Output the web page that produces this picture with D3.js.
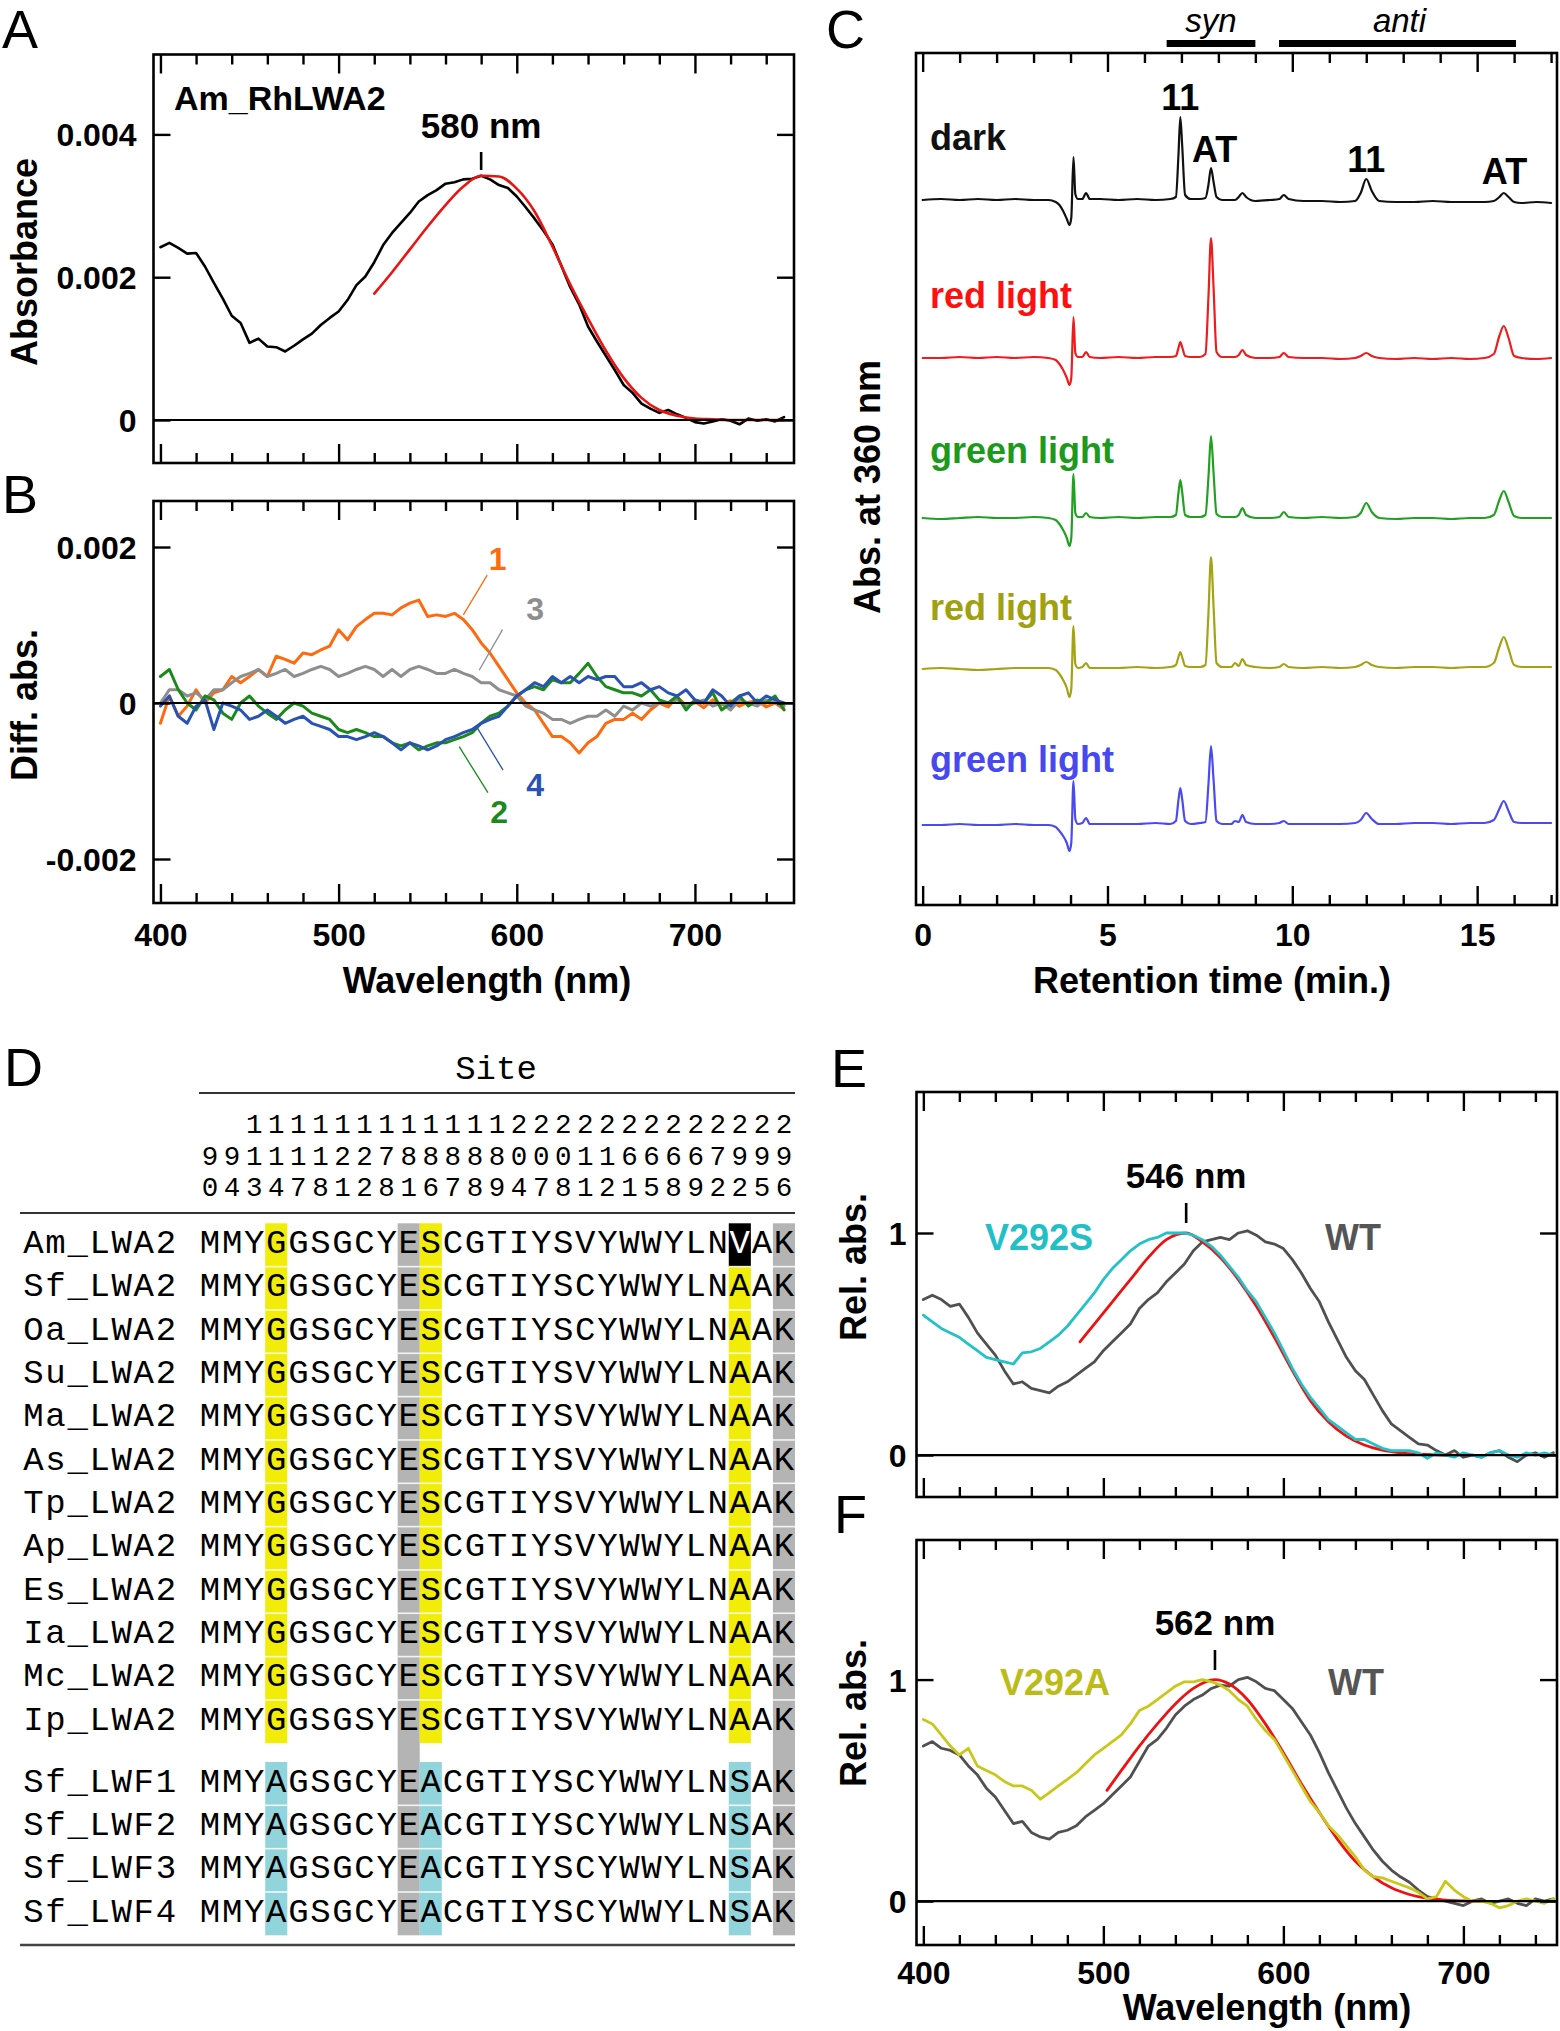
<!DOCTYPE html>
<html><head><meta charset="utf-8">
<script src="https://cdn.jsdelivr.net/npm/d3@7"></script>
<style>body{margin:0;background:#fff}</style>
</head><body>
<svg id="fig" width="1560" height="2031"></svg>
<script>
// ================= DATA =================
// shared wavelength grid (nm)
const wavelengths = [400,405,410,415,420,425,430,435,440,445,450,455,460,465,470,475,480,485,490,495,
  500,505,510,515,520,525,530,535,540,545,550,555,560,565,570,575,580,585,590,595,
  600,605,610,615,620,625,630,635,640,645,650,655,660,665,670,675,680,685,690,695,
  700,705,710,715,720,725,730,735,740,745,750];

// Panel A: Am_RhLWA2 absorbance
const absorbanceA = [0.00242,0.00248,0.00241,0.00233,0.00234,0.00215,0.00192,0.00170,0.00146,0.00136,
  0.00108,0.00114,0.00103,0.00102,0.00096,0.00104,0.00113,0.00121,0.00133,0.00143,
  0.00152,0.00168,0.00189,0.00201,0.00221,0.00245,0.00262,0.00276,0.00290,0.00306,
  0.00315,0.00322,0.00331,0.00333,0.00337,0.00338,0.00342,0.00337,0.00329,0.00325,
  0.00313,0.00298,0.00282,0.00265,0.00246,0.00216,0.00186,0.00162,0.00131,0.00110,
  0.00090,0.00070,0.00049,0.00038,0.00023,0.00016,0.00010,0.00014,0.00008,0.00003,
  -0.00003,-0.00005,-0.00002,0.00001,-0.00001,-0.00006,0.00002,-0.00001,0.00001,-0.00002,
  0.00004];
const fitWavelengthsA = [520,530,540,550,560,570,580,590,600,610,620,630,640,650,660,670,680,690,700,710,720,730,740,750];
const fitAbsorbanceA = [0.00177,0.00207,0.00239,0.00271,0.00301,0.00327,0.00342,0.00341,0.00324,0.00292,0.00243,0.00190,
  0.00142,0.00097,0.00059,0.00031,0.00014,0.00006,0.00002,0.00001,0,0,0,0];
const peakA = 580;

// Panel B: difference spectra 1-4
const diff1 = [-0.00026,0.00009,-0.00017,-0.00004,0.00017,0.0,0.00013,0.00017,0.00034,0.00026,
  0.00034,0.00043,0.00034,0.0006,0.00056,0.00051,0.00064,0.00062,0.00068,0.00073,
  0.00094,0.00081,0.00098,0.00107,0.00115,0.00115,0.00113,0.00122,0.00128,0.00132,
  0.00111,0.00113,0.00111,0.00115,0.00107,0.00094,0.00077,0.00064,0.00047,0.0003,
  0.00013,0.0,-0.00009,-0.00026,-0.00043,-0.00043,-0.00051,-0.00064,-0.00051,-0.00043,
  -0.00026,-0.00021,-0.00021,-0.00013,-0.00021,-0.00009,0.0,-0.00005,0.00008,-0.00003,
  0.00002,-0.00006,0.00004,-0.00002,0.00003,-0.00004,0.00001,0.00003,-0.00005,0.0,
  -0.00008];
const diff2 = [0.00034,0.00043,0.00017,0,-0.00009,0.00009,0.00004,-0.00013,-0.00021,0,
  0.00009,-0.00004,-0.00013,-0.00021,-0.00009,0,-0.00004,-0.00013,-0.00017,-0.00021,
  -0.00034,-0.00038,-0.00034,-0.00038,-0.00043,-0.00043,-0.00051,-0.00055,-0.00051,-0.0006,
  -0.00055,-0.00051,-0.00051,-0.00047,-0.00043,-0.00038,-0.00026,-0.00017,-0.00013,-0.00004,
  0.00009,0.00017,0.00021,0.00017,0.0003,0.00026,0.00026,0.00038,0.00051,0.00034,
  0.00021,0.00017,0.00013,0.00013,0.00009,0.00017,0.00004,0,0.00009,-0.00009,
  0.00004,0,0.00013,-0.00009,0,0.00009,-0.00004,0.00004,0,0.00009,
  -0.00009];
const diff3 = [0,0.00017,0.00017,0.00009,0.00013,0.00004,0.00017,0.00017,0.00026,0.00034,
  0.00038,0.00043,0.00034,0.00038,0.00043,0.00034,0.00038,0.00043,0.00047,0.00043,
  0.00034,0.00038,0.00043,0.00047,0.00043,0.00034,0.00043,0.00034,0.00043,0.00047,
  0.00043,0.00038,0.00038,0.00043,0.00038,0.00034,0.00026,0.00026,0.00017,0.00013,
  0.00009,-0.00004,-0.00009,-0.00013,-0.00021,-0.00021,-0.00026,-0.00021,-0.00017,-0.00017,
  -0.00009,-0.00017,-0.00004,-0.00009,0,-0.00004,0,0,0.00004,-0.00004,
  0,0.00004,-0.00004,0,-0.00009,0.00004,0,-0.00004,0.00004,0,
  -0.00004];
const diff4 = [-0.00004,0.00009,-0.00017,-0.00026,-0.00004,0.00004,-0.00034,0,-0.00004,-0.00009,
  -0.00021,-0.00017,-0.00009,-0.00017,-0.00026,-0.00021,-0.00017,-0.00026,-0.0003,-0.00034,
  -0.00043,-0.00043,-0.00047,-0.00043,-0.00038,-0.00043,-0.00051,-0.0006,-0.00051,-0.00055,
  -0.0006,-0.00055,-0.00047,-0.00043,-0.00038,-0.00034,-0.00026,-0.00021,-0.00017,-0.00004,
  0.00009,0.00017,0.00026,0.00021,0.00034,0.00026,0.00034,0.00026,0.00034,0.0003,
  0.00034,0.00034,0.00021,0.00021,0.00026,0.00017,0.00021,0.00013,0.00009,0.00017,
  0.00004,0,0.00017,0.00009,-0.00004,0.00009,0.00013,0,0.00009,0.00004,
  0];
const diffLabels = ["1","2","3","4"];

// Panel C: HPLC chromatograms (retention time, min; absorbance, arbitrary units)
const retentionTimes = [0,0.5,1,1.5,2,2.5,3,3.4,3.6,3.7,3.8,3.9,3.97,4.02,4.08,4.13,4.2,4.32,4.42,4.52,
  4.8,5.3,5.8,6.3,6.7,6.85,6.92,6.97,7.02,7.1,7.25,7.5,7.65,7.73,7.8,7.87,7.95,8.1,8.35,8.45,
  8.55,8.65,8.75,9.0,9.4,9.65,9.77,9.9,10.3,10.8,11.3,11.7,11.85,12.0,12.15,12.35,12.8,13.3,13.8,14.3,
  14.8,15.2,15.45,15.6,15.72,15.85,16.0,16.2,16.6,17.0];
const chromDark = [0,1,0,1,0,1,0, 0,-2,-5,-11,-19,-25, -18,43,6,1,1,7,1, 1,0,1,0,1, 3,45,83,55,5,1,
  1,2,15,32,18,3, 0,0,0,3,7,3, -1,0,1,5,1, -1,-1,-2,-1,7, 21,9,-1,-2,-2, -1,-2,-2,-2,-1, 3,7,3,-2,-3, -2,-3];
const chromRed1 = [0,0,1,0,1,0,1, 0,-2,-6,-12,-20,-27, -20,41,5,1,1,6,1, 0,1,0,1,1, 2,10,16,11,2,1,
  1,4,60,120,70,6, 1,1,1,3,8,3, 0,0,1,5,1, 0,0,-1,0,2, 5,2,0,-1,0, -1,0,-1,0,4, 22,32,20,2,0, -1,0];
const chromGreen1 = [0,-1,0,1,0,0,1, 0,-2,-6,-12,-20,-28, -20,44,5,1,1,5,1, 0,1,0,1,1, 3,25,38,26,3,1,
  1,3,40,82,45,4, 1,1,1,3,10,3, 0,0,1,6,1, 0,1,0,1,5, 15,6,0,-1,0, 0,-1,0,0,3, 18,27,16,2,0, 0,0];
const chromRed2 = [0,1,0,-1,0,1,1, 1,-1,-5,-11,-19,-28, -20,43,5,1,2,6,1, 1,1,2,1,2, 4,12,17,12,3,2,
  2,4,55,112,62,6, 2,2,6,3,10,4, 2,1,2,5,2, 1,2,1,2,4, 7,4,2,1,2, 2,1,2,2,6, 22,32,20,4,2, 2,2];
const chromGreen2 = [0,0,1,0,0,1,0, 0,-2,-6,-11,-18,-26, -18,44,6,1,2,7,1, 1,1,1,2,1, 4,25,37,26,4,1,
  2,3,40,79,45,4, 1,1,4,3,10,3, 1,1,2,4,1, 1,1,1,2,5, 12,6,1,1,2, 2,1,2,2,5, 16,24,14,3,2, 2,2];
const chromLabels = ["dark","red light","green light","red light","green light"];
const chromStackOffsets = [705,547,387,236,80];
const synRange = [6.6, 9.0];
const antiRange = [9.64, 16.05];

// Panel D: alignment
const speciesNames = ["Am_LWA2","Sf_LWA2","Oa_LWA2","Su_LWA2","Ma_LWA2","As_LWA2","Tp_LWA2","Ap_LWA2",
  "Es_LWA2","Ia_LWA2","Mc_LWA2","Ip_LWA2","Sf_LWF1","Sf_LWF2","Sf_LWF3","Sf_LWF4"];
const sequences = ["MMYGGSGCYESCGTIYSVYWWYLNVAK","MMYGGSGCYESCGTIYSCYWWYLNAAK","MMYGGSGCYESCGTIYSCYWWYLNAAK",
  "MMYGGSGCYESCGTIYSVYWWYLNAAK","MMYGGSGCYESCGTIYSVYWWYLNAAK","MMYGGSGCYESCGTIYSVYWWYLNAAK",
  "MMYGGSGCYESCGTIYSVYWWYLNAAK","MMYGGSGCYESCGTIYSVYWWYLNAAK","MMYGGSGCYESCGTIYSVYWWYLNAAK",
  "MMYGGSGCYESCGTIYSVYWWYLNAAK","MMYGGSGCYESCGTIYSVYWWYLNAAK","MMYGGSGSYESCGTIYSVYWWYLNAAK",
  "MMYAGSGCYEACGTIYSCYWWYLNSAK","MMYAGSGCYEACGTIYSCYWWYLNSAK","MMYAGSGCYEACGTIYSCYWWYLNSAK",
  "MMYAGSGCYEACGTIYSCYWWYLNSAK"];
const siteRows = ["  1111111111112222222222222","991111227888880001166667999","043478128167894781215892256"];
const groupHighlightCols = [3,10,24];
const grayCols = [9,26];

// Panel E / F: relative absorbance
const relWT_E = [0.70,0.72,0.70,0.67,0.68,0.62,0.55,0.50,0.45,0.38,
  0.32,0.33,0.30,0.29,0.28,0.31,0.33,0.36,0.39,0.42,
  0.47,0.51,0.55,0.59,0.66,0.70,0.73,0.78,0.82,0.86,
  0.92,0.96,0.97,0.98,0.97,1.0,1.01,0.99,0.96,0.95,
  0.93,0.88,0.82,0.75,0.69,0.60,0.52,0.44,0.38,0.34,
  0.27,0.20,0.14,0.11,0.08,0.05,0.045,0.02,0.0,0.02,
  -0.01,0.0,-0.01,0.01,0.02,-0.01,-0.03,0.0,0.01,-0.01,
  0.01];
const relV292S = [0.63,0.60,0.57,0.55,0.53,0.50,0.47,0.44,0.43,0.42,
  0.41,0.46,0.465,0.48,0.51,0.54,0.58,0.63,0.68,0.73,
  0.79,0.84,0.88,0.92,0.95,0.97,0.98,1.0,1.0,1.0,
  0.99,0.97,0.94,0.90,0.85,0.80,0.74,0.69,0.62,0.55,
  0.47,0.39,0.32,0.26,0.21,0.16,0.13,0.10,0.07,0.07,
  0.05,0.03,0.02,0.02,0.02,0.01,-0.015,0.01,0.0,-0.01,
  0.01,0.0,-0.01,0.01,0.02,0.0,-0.01,0.01,0.0,0.01,
  0.0];
const fitWavelengthsE = [487,495,505,515,525,535,546,555,565,575,585,595,605,615,625,635,645,655,665,675,685,695];
const fitE = [0.51,0.59,0.69,0.79,0.89,0.97,1.0,0.96,0.89,0.79,0.67,0.53,0.38,0.245,0.15,0.085,0.045,0.022,0.01,0.004,0.001,0];
const peakE = 546;

const relWT_F = [0.70,0.72,0.69,0.68,0.66,0.61,0.57,0.51,0.47,0.41,
  0.35,0.36,0.31,0.29,0.28,0.31,0.32,0.34,0.38,0.41,
  0.44,0.48,0.52,0.56,0.63,0.70,0.73,0.78,0.84,0.88,
  0.91,0.93,0.96,0.975,0.97,1.0,1.01,0.99,0.96,0.95,
  0.91,0.87,0.81,0.75,0.67,0.58,0.50,0.42,0.35,0.29,
  0.23,0.18,0.14,0.11,0.085,0.05,0.02,0.01,0.0,-0.01,
  -0.02,0.0,0.01,-0.01,0.0,0.01,-0.01,-0.02,0.01,0.0,
  0.01];
const relV292A = [0.82,0.80,0.75,0.70,0.66,0.69,0.61,0.59,0.57,0.54,
  0.52,0.52,0.50,0.46,0.49,0.52,0.55,0.58,0.62,0.66,
  0.69,0.72,0.75,0.80,0.86,0.88,0.91,0.94,0.97,0.99,
  0.99,1.0,0.99,0.975,0.95,0.91,0.88,0.82,0.77,0.73,
  0.66,0.59,0.52,0.45,0.40,0.34,0.30,0.25,0.20,0.14,
  0.11,0.105,0.09,0.075,0.06,0.04,0.01,0.02,0.09,0.05,
  0.02,0.0,0.0,-0.01,-0.03,-0.02,0.0,0.01,0.0,-0.01,
  0.01];
const fitWavelengthsF = [502,510,520,530,540,550,562,570,580,590,600,610,620,630,640,650,660,670,680,690,700,710];
const fitF = [0.50,0.59,0.70,0.80,0.89,0.96,1.0,0.98,0.91,0.80,0.67,0.53,0.40,0.28,0.18,0.11,0.06,0.03,0.012,0.004,0.001,0];
const peakF = 562;

const wlMajor = [400,500,600,700];
const wlMinor = [420,440,460,480,520,540,560,580,620,640,660,680,720,740];
const rtMajor = [0,5,10,15];
const rtMinor = [1,2,3,4,6,7,8,9,11,12,13,14,16,17];

// ================= DRAWING =================
const SANS = '"Liberation Sans", Arial, Helvetica, sans-serif';
const MONO = '"Liberation Mono", "Courier New", monospace';
const svg = d3.select('#fig');
svg.append('rect').attr('width',1560).attr('height',2031).attr('fill','#fff');

function styleAxis(sel, fs) {
  sel.select('.domain').remove();
  sel.selectAll('line').attr('stroke','#000').attr('stroke-width',2.4);
  sel.selectAll('text').attr('font-family',SANS).attr('font-weight','bold')
     .attr('font-size',fs || 32).attr('fill','#000');
}
function drawAxes(x, y, o) {
  const [x0, x1] = x.range();
  const [yb, yt] = y.range();
  const g = svg.append('g');
  const mk = (axis, tr) => g.append('g').attr('transform', tr).call(axis).call(s => styleAxis(s));
  mk(d3.axisBottom(x).tickValues(o.xMinor).tickSize(-10).tickFormat(''), `translate(0,${yb})`);
  const bm = mk(d3.axisBottom(x).tickValues(o.xMajor).tickSize(-19).tickFormat(o.xLabels ? d3.format('d') : ''), `translate(0,${yb})`);
  if (o.xLabels) bm.selectAll('text').attr('y', o.xLabelOffset).attr('dy', 0);
  mk(d3.axisTop(x).tickValues(o.xMinor).tickSize(-10).tickFormat(''), `translate(0,${yt})`);
  mk(d3.axisTop(x).tickValues(o.xMajor).tickSize(-19).tickFormat(''), `translate(0,${yt})`);
  if (o.yTicks) {
    const l = mk(d3.axisLeft(y).tickValues(o.yTicks).tickSize(-17).tickFormat(o.yFormat), `translate(${x0},0)`);
    l.selectAll('text').attr('x', -o.yLabelPad).attr('dy','0.36em');
    mk(d3.axisRight(y).tickValues(o.yTicks).tickSize(-17).tickFormat(''), `translate(${x1},0)`);
  }
  if (o.zeroLine) {
    g.append('line').attr('x1',x0).attr('x2',x1).attr('y1',y(0)).attr('y2',y(0))
      .attr('stroke','#000').attr('stroke-width',2.2);
  }
  g.append('rect').attr('x',x0).attr('y',yt).attr('width',x1-x0).attr('height',yb-yt)
    .attr('fill','none').attr('stroke','#000').attr('stroke-width',2.6);
  return g;
}
function txt(x, y, s, o) {
  const t = svg.append('text').attr('x',x).attr('y',y).text(s)
    .attr('font-family', o.family || SANS).attr('font-weight', o.weight || 'bold')
    .attr('font-size', o.size || 32).attr('fill', o.fill || '#000')
    .attr('text-anchor', o.anchor || 'start');
  if (o.style) t.attr('font-style', o.style);
  if (o.rotate) t.attr('transform', `rotate(-90,${x},${y})`);
  return t;
}
// one text element per row, each character placed on its own column
function gridRow(y, chars, xOf, size, fillOf) {
  const t = svg.append('text').attr('y', y).attr('font-family', MONO).attr('font-size', size)
    .attr('text-anchor','middle').attr('fill','#000');
  [...chars].forEach((ch, j) => {
    if (ch === ' ') return;
    const sp = t.append('tspan').attr('x', xOf(j)).text(ch);
    if (fillOf) sp.attr('fill', fillOf(j));
  });
  return t;
}
function series(x, y, xs, ys, color, w, curve) {
  const line = d3.line().x(d => x(d[0])).y(d => y(d[1])).curve(curve || d3.curveLinear);
  svg.append('path').datum(xs.map((v,i)=>[v, ys[i]])).attr('d', line)
    .attr('fill','none').attr('stroke',color).attr('stroke-width',w)
    .attr('stroke-linejoin','round').attr('stroke-linecap','round');
}
function panelLetter(x, y, s) { txt(x, y, s, {weight:'normal', size:54}); }
const fmtAbs = d => d === 0 ? '0' : (d < 0 ? '-' : '') + d3.format('.3f')(Math.abs(d));

// ---------- Panel A ----------
const xA = d3.scaleLinear().domain([396.1, 755.6]).range([153.5, 794]);
const yA = d3.scaleLinear().domain([-0.000602, 0.005119]).range([463, 54.5]);
series(xA, yA, wavelengths, absorbanceA, '#000', 2.6);
series(xA, yA, fitWavelengthsA, fitAbsorbanceA, '#ee1111', 2.6, d3.curveMonotoneX);
drawAxes(xA, yA, {xMajor:wlMajor, xMinor:wlMinor, xLabels:false, yTicks:[0,0.002,0.004], yFormat:fmtAbs, yLabelPad:17, zeroLine:true});
panelLetter(2, 48, 'A');
txt(174, 110, 'Am_RhLWA2', {size:34});
txt(xA(peakA), 138, peakA + ' nm', {size:35, anchor:'middle'});
svg.append('line').attr('x1',xA(peakA)).attr('x2',xA(peakA)).attr('y1',152).attr('y2',170).attr('stroke','#000').attr('stroke-width',2.6);
txt(37, 262, 'Absorbance', {size:36, anchor:'middle', rotate:true});

// ---------- Panel B ----------
const xB = d3.scaleLinear().domain([396.1, 755.6]).range([153.5, 794]);
const yB = d3.scaleLinear().domain([-0.002564, 0.00259]).range([903, 501]);
const diffColors = ['#ff6a10','#1b8a1b','#8e8e8e','#2a52b5'];
[[diff1,0],[diff3,2],[diff2,1],[diff4,3]].forEach(([d, idx]) => {
  series(xB, yB, wavelengths, d, diffColors[idx], 3);
});
drawAxes(xB, yB, {xMajor:wlMajor, xMinor:wlMinor, xLabels:true, xLabelOffset:43, yTicks:[-0.002,0,0.002], yFormat:fmtAbs, yLabelPad:17, zeroLine:true});
panelLetter(2, 513, 'B');
const diffAnn = [
  {lab:0, tx:589.3, ty:0.001705, l:[[570,0.00113],[583.4,0.00164]]},
  {lab:1, tx:590.1, ty:-0.00154, l:[[567.7,-0.00056],[583.8,-0.00115]]},
  {lab:2, tx:610.3, ty:0.00106, l:[[578.9,0.00042],[592,0.00094]]},
  {lab:3, tx:610.3, ty:-0.00119, l:[[577.3,-0.0003],[592.3,-0.00086]]}
];
diffAnn.forEach(a => {
  svg.append('line').attr('x1',xB(a.l[0][0])).attr('y1',yB(a.l[0][1])).attr('x2',xB(a.l[1][0])).attr('y2',yB(a.l[1][1]))
    .attr('stroke',diffColors[a.lab]).attr('stroke-width',1.3);
  txt(xB(a.tx), yB(a.ty), diffLabels[a.lab], {size:32, anchor:'middle', fill:diffColors[a.lab]});
});
txt(37, 705, 'Diff. abs.', {size:36, anchor:'middle', rotate:true});
txt(487, 993, 'Wavelength (nm)', {size:36, anchor:'middle'});

// ---------- Panel C ----------
const xC = d3.scaleLinear().domain([-0.18, 17.16]).range([916, 1557]);
const yC = d3.scaleLinear().domain([0, 852]).range([905, 53]);
const chroms = [chromDark, chromRed1, chromGreen1, chromRed2, chromGreen2];
const chromColors = ['#111111','#ee1c1c','#22a022','#a3a314','#4a4af0'];
const labelColors = ['#111111','#ff1010','#1c9a1c','#a0a010','#4848f0'];
chroms.forEach((c, k) => {
  series(xC, yC, retentionTimes, c.map(v => v + chromStackOffsets[k]), chromColors[k], 2.2, d3.curveMonotoneX);
  txt(930, yC(chromStackOffsets[k]) + [-50,-50,-55,-49,-53][k], chromLabels[k], {size:36, fill:labelColors[k]});
});
drawAxes(xC, yC, {xMajor:rtMajor, xMinor:rtMinor, xLabels:true, xLabelOffset:41});
panelLetter(826, 48, 'C');
[[synRange,'syn'],[antiRange,'anti']].forEach(([r, s]) => {
  svg.append('rect').attr('x',xC(r[0])).attr('y',40).attr('width',xC(r[1])-xC(r[0])).attr('height',7).attr('fill','#000');
  txt((xC(r[0])+xC(r[1]))/2 + (s==='syn'?0:2), 32, s, {size:33, weight:'normal', style:'italic', anchor:'middle'});
});
txt(xC(6.97), 110, '11', {size:36, anchor:'middle'});
txt(xC(7.9), 162, 'AT', {size:36, anchor:'middle'});
txt(xC(12.0), 172, '11', {size:36, anchor:'middle'});
txt(xC(15.74), 184, 'AT', {size:36, anchor:'middle'});
txt(880, 487, 'Abs. at 360 nm', {size:36, anchor:'middle', rotate:true});
txt(1212, 993, 'Retention time (min.)', {size:36, anchor:'middle'});

// ---------- Panel D ----------
const colX = d3.scaleBand().domain(d3.range(27)).range([199, 795]);
const cw = colX.bandwidth();
const rowH = 43.33;
const rowTop = i => i < 12 ? 1223.3 + i*rowH : 1762 + (i-12)*rowH;
const colCenter = j => colX(j) + cw/2;
panelLetter(4, 1086, 'D');
txt(496, 1079, 'Site', {family:MONO, weight:'normal', size:34, anchor:'middle'});
svg.append('line').attr('x1',199).attr('x2',795).attr('y1',1093).attr('y2',1093).attr('stroke','#333').attr('stroke-width',2);
svg.append('line').attr('x1',20).attr('x2',795).attr('y1',1213).attr('y2',1213).attr('stroke','#333').attr('stroke-width',2);
svg.append('line').attr('x1',20).attr('x2',795).attr('y1',1945).attr('y2',1945).attr('stroke','#444').attr('stroke-width',2.5);
grayCols.forEach(c => {
  svg.append('rect').attr('x',colX(c)).attr('y',rowTop(0)).attr('width',cw).attr('height',rowTop(15)+rowH-rowTop(0)).attr('fill','#b4b4b4');
});
sequences.forEach((s, i) => {
  groupHighlightCols.forEach(c => {
    let fill = i < 12 ? '#f1ed08' : '#92d4dc';
    if (i === 0 && c === 24) fill = '#000';
    svg.append('rect').attr('x',colX(c)).attr('y',rowTop(i)).attr('width',cw).attr('height',rowH).attr('fill',fill);
  });
});
sequences.forEach((s, i) => {
  if (i === 0 || i === 12) return;
  [...grayCols, ...groupHighlightCols].forEach(c => {
    svg.append('rect').attr('x',colX(c)).attr('y',rowTop(i)-0.8).attr('width',cw).attr('height',1.6).attr('fill','#fff').attr('opacity',0.85);
  });
});
siteRows.forEach((r, k) => gridRow([1133,1164.5,1196][k], r, colCenter, 27.5));
sequences.forEach((s, i) => {
  const base = rowTop(i) + 29.7;
  gridRow(base, speciesNames[i], j => 199 + (j-8)*cw + cw/2, 34);
  gridRow(base, s, colCenter, 34, j => (i === 0 && j === 24) ? '#fff' : '#000');
});

// ---------- Panel E ----------
const xE = d3.scaleLinear().domain([396.2, 752]).range([916.5, 1557]);
const yE = d3.scaleLinear().domain([-0.189, 1.635]).range([1497, 1092]);
series(xE, yE, wavelengths, relWT_E, '#505050', 2.8);
series(xE, yE, fitWavelengthsE, fitE, '#ee1111', 2.8, d3.curveMonotoneX);
series(xE, yE, wavelengths, relV292S, '#22c2c8', 2.8);
drawAxes(xE, yE, {xMajor:wlMajor, xMinor:wlMinor, xLabels:false, yTicks:[0,1], yFormat:d3.format('d'), yLabelPad:10, zeroLine:true});
panelLetter(831, 1087, 'E');
txt(xE(peakE), 1188, peakE + ' nm', {size:35, anchor:'middle'});
svg.append('line').attr('x1',xE(peakE)).attr('x2',xE(peakE)).attr('y1',1203).attr('y2',1223).attr('stroke','#000').attr('stroke-width',2.6);
txt(985, 1250, 'V292S', {size:36, fill:'#22c0c6'});
txt(1325, 1250, 'WT', {size:36, fill:'#555'});
txt(866, 1267, 'Rel. abs.', {size:36, anchor:'middle', rotate:true});

// ---------- Panel F ----------
const xF = d3.scaleLinear().domain([396.2, 752]).range([916.5, 1557]);
const yF = d3.scaleLinear().domain([-0.198, 1.63]).range([1945, 1540]);
series(xF, yF, wavelengths, relWT_F, '#505050', 2.8);
series(xF, yF, fitWavelengthsF, fitF, '#ee1111', 2.8, d3.curveMonotoneX);
series(xF, yF, wavelengths, relV292A, '#c9c81a', 2.8);
drawAxes(xF, yF, {xMajor:wlMajor, xMinor:wlMinor, xLabels:true, xLabelOffset:39, yTicks:[0,1], yFormat:d3.format('d'), yLabelPad:10, zeroLine:true});
panelLetter(834, 1533, 'F');
txt(xF(peakF), 1635, peakF + ' nm', {size:35, anchor:'middle'});
svg.append('line').attr('x1',xF(peakF)).attr('x2',xF(peakF)).attr('y1',1650).attr('y2',1670).attr('stroke','#000').attr('stroke-width',2.6);
txt(1000, 1695, 'V292A', {size:36, fill:'#bcbc18'});
txt(1328, 1695, 'WT', {size:36, fill:'#555'});
txt(866, 1713, 'Rel. abs.', {size:36, anchor:'middle', rotate:true});
txt(1267, 2020, 'Wavelength (nm)', {size:36, anchor:'middle'});
</script>
</body></html>
